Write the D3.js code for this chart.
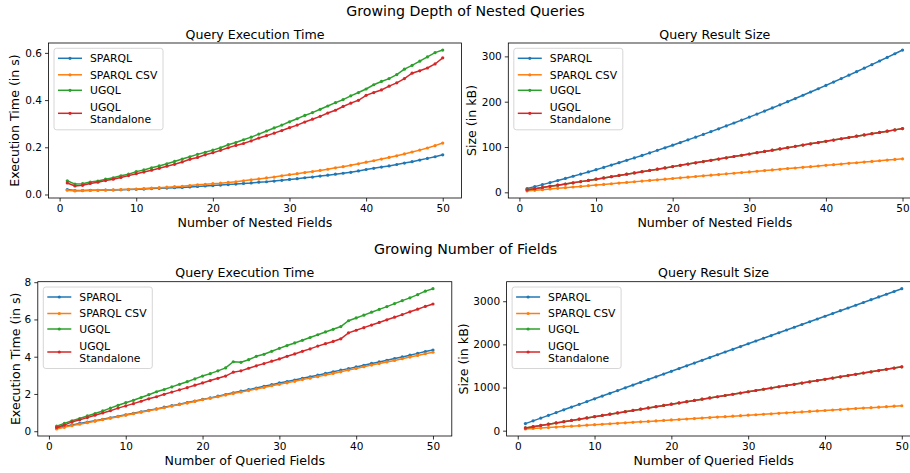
<!DOCTYPE html>
<html>
<head>
<meta charset="utf-8">
<style>
  body { margin: 0; background: #fff; }
  svg { display: block; font-family: "DejaVu Sans", sans-serif; }
</style>
</head>
<body>
<svg width="910" height="473"></svg>
<script src="https://d3js.org/d3.v7.min.js"></script>
<script>
// x values: number of nested / queried fields
var fieldCounts = d3.range(1, 51);
var seriesNames = ["SPARQL", "SPARQL CSV", "UGQL", "UGQL\nStandalone"];
var colors = ["#1f77b4", "#ff7f0e", "#2ca02c", "#d62728"];

// growing depth of nested queries - execution time (s)
var depthTimeSparql = [
  0.021,0.017,0.017,0.018,0.018,0.019,0.019,0.020,0.021,0.022,
  0.023,0.025,0.026,0.027,0.029,0.030,0.032,0.034,0.036,0.038,
  0.040,0.042,0.044,0.047,0.049,0.052,0.054,0.057,0.060,0.064,
  0.067,0.071,0.074,0.078,0.082,0.086,0.090,0.094,0.100,0.106,
  0.111,0.116,0.121,0.127,0.133,0.139,0.146,0.153,0.160,0.168];
var depthTimeCsv = [
  0.018,0.015,0.016,0.017,0.018,0.019,0.020,0.021,0.022,0.023,
  0.025,0.027,0.029,0.031,0.033,0.035,0.038,0.041,0.043,0.046,
  0.048,0.051,0.054,0.058,0.062,0.066,0.070,0.074,0.079,0.084,
  0.088,0.093,0.097,0.102,0.107,0.113,0.118,0.124,0.130,0.137,
  0.143,0.150,0.157,0.164,0.172,0.180,0.188,0.197,0.207,0.218];
var depthTimeUgql = [
  0.058,0.044,0.046,0.053,0.057,0.065,0.071,0.079,0.086,0.097,
  0.104,0.113,0.121,0.130,0.140,0.150,0.160,0.170,0.179,0.188,
  0.198,0.211,0.220,0.232,0.243,0.256,0.269,0.282,0.294,0.308,
  0.321,0.335,0.347,0.361,0.375,0.389,0.402,0.418,0.432,0.447,
  0.465,0.479,0.491,0.508,0.531,0.547,0.565,0.583,0.601,0.612];
var depthTimeStandalone = [
  0.049,0.036,0.039,0.047,0.052,0.059,0.065,0.072,0.080,0.088,
  0.095,0.103,0.111,0.120,0.128,0.138,0.149,0.157,0.168,0.177,
  0.187,0.198,0.208,0.216,0.227,0.239,0.249,0.260,0.271,0.283,
  0.294,0.307,0.319,0.331,0.345,0.357,0.373,0.387,0.399,0.420,
  0.432,0.443,0.459,0.473,0.491,0.514,0.524,0.536,0.553,0.579];

// growing depth of nested queries - result size (kB)
var depthSizeSparql = [
  8.2,12.6,17.0,21.4,26.0,30.6,35.4,40.2,45.0,50.0,
  55.0,60.2,65.4,70.6,76.0,81.4,87.0,92.6,98.2,104.0,
  109.8,115.8,121.8,127.8,134.0,140.2,146.6,153.0,159.4,166.0,
  172.6,179.4,186.2,193.0,200.0,207.0,214.2,221.4,228.6,236.0,
  243.4,251.0,258.6,266.2,274.0,281.8,289.8,297.8,305.8,314.0];
var depthSizeCsv = [
  3.0,4.4,5.9,7.3,8.8,10.2,11.7,13.1,14.6,16.0,
  17.5,18.9,20.4,21.8,23.3,24.7,26.2,27.6,29.1,30.5,
  32.0,33.4,34.9,36.3,37.8,39.2,40.7,42.1,43.6,45.0,
  46.5,47.9,49.4,50.8,52.3,53.7,55.2,56.6,58.1,59.5,
  61.0,62.4,63.9,65.3,66.8,68.2,69.7,71.1,72.6,74.0];
// UGQL and UGQL Standalone give the same result size
var depthSizeUgql = [
  5.5,8.0,10.6,13.2,15.8,18.4,21.0,23.6,26.2,28.9,
  31.7,34.5,37.3,40.0,42.8,45.6,48.3,51.1,53.9,56.7,
  59.5,62.3,65.0,67.8,70.6,73.4,76.2,79.0,81.8,84.6,
  87.4,90.2,93.0,95.8,98.6,101.4,104.2,107.0,109.8,112.6,
  115.4,118.2,121.0,123.8,126.6,129.4,132.2,135.0,137.8,140.6];

// growing number of fields - execution time (s)
var fieldsTimeSparql = [
  0.17,0.25,0.34,0.42,0.49,0.56,0.64,0.72,0.80,0.88,
  0.96,1.04,1.12,1.20,1.29,1.37,1.45,1.54,1.62,1.71,
  1.79,1.88,1.97,2.06,2.15,2.23,2.32,2.41,2.50,2.59,
  2.67,2.75,2.84,2.92,3.01,3.10,3.19,3.28,3.36,3.45,
  3.54,3.64,3.72,3.81,3.90,3.99,4.08,4.18,4.28,4.36];
var fieldsTimeCsv = [
  0.12,0.21,0.30,0.38,0.46,0.54,0.62,0.70,0.78,0.86,
  0.94,1.02,1.10,1.18,1.26,1.35,1.43,1.51,1.60,1.69,
  1.77,1.85,1.94,2.02,2.10,2.18,2.27,2.35,2.44,2.52,
  2.60,2.68,2.77,2.85,2.93,3.02,3.10,3.19,3.28,3.37,
  3.46,3.55,3.63,3.72,3.80,3.89,3.98,4.07,4.16,4.24];
var fieldsTimeUgql = [
  0.27,0.42,0.56,0.68,0.82,0.95,1.09,1.24,1.39,1.53,
  1.66,1.81,1.96,2.12,2.24,2.38,2.52,2.66,2.81,2.96,
  3.09,3.24,3.40,3.73,3.70,3.84,4.02,4.13,4.29,4.45,
  4.60,4.74,4.88,5.03,5.18,5.33,5.47,5.62,5.93,6.08,
  6.23,6.39,6.54,6.69,6.85,7.01,7.16,7.33,7.52,7.65];
var fieldsTimeStandalone = [
  0.20,0.33,0.50,0.61,0.73,0.86,0.98,1.10,1.24,1.36,
  1.48,1.61,1.74,1.85,1.98,2.10,2.22,2.34,2.47,2.59,
  2.72,2.84,2.96,3.17,3.24,3.38,3.51,3.63,3.76,3.88,
  4.02,4.15,4.29,4.42,4.57,4.70,4.82,4.96,5.28,5.42,
  5.56,5.70,5.84,5.98,6.12,6.26,6.41,6.55,6.70,6.83];

// growing number of fields - result size (kB)
var fieldsSizeSparql = [
  164,228,291,355,419,483,547,610,674,738,
  802,866,929,993,1057,1121,1185,1248,1312,1376,
  1440,1504,1567,1631,1695,1759,1823,1886,1950,2014,
  2078,2142,2205,2269,2333,2397,2461,2524,2588,2652,
  2716,2780,2843,2907,2971,3035,3099,3162,3226,3290];
var fieldsSizeCsv = [
  39,50,61,72,83,94,105,116,127,138,
  149,160,171,182,193,204,215,226,237,248,
  259,270,281,292,303,314,325,336,347,358,
  369,380,391,402,413,424,435,446,457,468,
  479,490,501,512,523,534,545,556,567,578];
var fieldsSizeUgql = [
  64,93,122,151,180,208,237,266,295,324,
  353,382,411,440,469,497,526,555,584,613,
  642,671,700,729,758,786,815,844,873,902,
  931,960,989,1018,1047,1075,1104,1133,1162,1191,
  1220,1249,1278,1307,1336,1364,1393,1422,1451,1480];

var xTicks = [0, 10, 20, 30, 40, 50];

var svg = d3.select("svg");

var panels = [
  { left: 48.5, top: 43, width: 413, height: 155, labelX: -33.5,
    data: [depthTimeSparql, depthTimeCsv, depthTimeUgql, depthTimeStandalone],
    yTicks: [0, 0.2, 0.4, 0.6], yFmt: d3.format(".1f"),
    title: "Query Execution Time", xLabel: "Number of Nested Fields", yLabel: "Execution Time (in s)" },
  { left: 508.3, top: 43, width: 413, height: 155, labelX: -36.5,
    data: [depthSizeSparql, depthSizeCsv, depthSizeUgql, depthSizeUgql],
    yTicks: [0, 100, 200, 300], yFmt: d3.format("d"),
    title: "Query Result Size", xLabel: "Number of Nested Fields", yLabel: "Size (in kB)" },
  { left: 37.8, top: 281.7, width: 414, height: 154.3, labelX: -22.5,
    data: [fieldsTimeSparql, fieldsTimeCsv, fieldsTimeUgql, fieldsTimeStandalone],
    yTicks: [0, 2, 4, 6, 8], yFmt: d3.format("d"),
    title: "Query Execution Time", xLabel: "Number of Queried Fields", yLabel: "Execution Time (in s)" },
  { left: 506.6, top: 281.7, width: 414, height: 154.3, labelX: -43.5,
    data: [fieldsSizeSparql, fieldsSizeCsv, fieldsSizeUgql, fieldsSizeUgql],
    yTicks: [0, 1000, 2000, 3000], yFmt: d3.format("d"),
    title: "Query Result Size", xLabel: "Number of Queried Fields", yLabel: "Size (in kB)" }
];

svg.append("text").attr("x", 465.5).attr("y", 15.5)
  .attr("text-anchor", "middle").style("font-size", "14.2px")
  .text("Growing Depth of Nested Queries");
svg.append("text").attr("x", 465.5).attr("y", 253.5)
  .attr("text-anchor", "middle").style("font-size", "14.2px")
  .text("Growing Number of Fields");

panels.forEach(drawPanel);

function drawPanel(p) {
  var g = svg.append("g").attr("transform", "translate(" + p.left + "," + p.top + ")");

  var x = d3.scaleLinear().domain([1 - 49 * 0.05, 50 + 49 * 0.05]).range([0, p.width]);
  var all = [].concat.apply([], p.data);
  var lo = d3.min(all), hi = d3.max(all), pad = (hi - lo) * 0.05;
  var y = d3.scaleLinear().domain([lo - pad, hi + pad]).range([p.height, 0]);

  var xAxis = g.append("g").attr("transform", "translate(0," + p.height + ")")
    .call(d3.axisBottom(x).tickValues(xTicks).tickSize(3.5).tickPadding(3));
  var yAxis = g.append("g")
    .call(d3.axisLeft(y).tickValues(p.yTicks).tickFormat(p.yFmt).tickSize(3.5).tickPadding(3));
  [xAxis, yAxis].forEach(function(a) {
    a.select(".domain").remove();
    a.selectAll("line").attr("stroke", "#000").attr("stroke-width", 0.8);
    a.selectAll("text").attr("fill", "#000").style("font-size", "10.5px")
      .style("font-family", "DejaVu Sans, sans-serif");
  });

  var line = d3.line()
    .x(function(d, i) { return x(fieldCounts[i]); })
    .y(function(d) { return y(d); });

  p.data.forEach(function(vals, k) {
    g.append("path").attr("d", line(vals))
      .attr("fill", "none").attr("stroke", colors[k]).attr("stroke-width", 1.5);
    g.append("g").selectAll("circle").data(vals).enter().append("circle")
      .attr("cx", function(d, i) { return x(fieldCounts[i]); })
      .attr("cy", function(d) { return y(d); })
      .attr("r", 1.6).attr("fill", colors[k]);
  });

  g.append("rect").attr("width", p.width).attr("height", p.height)
    .attr("fill", "none").attr("stroke", "#000").attr("stroke-width", 0.8);

  g.append("text").attr("x", p.width / 2).attr("y", -4.5)
    .attr("text-anchor", "middle").style("font-size", "12.6px").text(p.title);
  g.append("text").attr("x", p.width / 2).attr("y", p.height + 29)
    .attr("text-anchor", "middle").style("font-size", "12.6px").text(p.xLabel);
  g.append("text")
    .attr("transform", "translate(" + p.labelX + "," + (p.height / 2) + ") rotate(-90)")
    .attr("dy", "0.35em").attr("text-anchor", "middle")
    .style("font-size", "12.6px").text(p.yLabel);

  // legend
  var lg = g.append("g").attr("transform", "translate(5.5,5.3)");
  lg.append("rect").attr("width", 109).attr("height", 81.5).attr("rx", 2.5)
    .attr("fill", "#fff").attr("fill-opacity", 0.8)
    .attr("stroke", "#cccccc").attr("stroke-width", 0.8);
  var rows = [10, 26.5, 42, 65];
  seriesNames.forEach(function(name, k) {
    var ry = rows[k];
    lg.append("line").attr("x1", 4).attr("x2", 28).attr("y1", ry).attr("y2", ry)
      .attr("stroke", colors[k]).attr("stroke-width", 1.5);
    lg.append("circle").attr("cx", 16).attr("cy", ry).attr("r", 1.6).attr("fill", colors[k]);
    var parts = name.split("\n");
    var t = lg.append("text").attr("x", 36).style("font-size", "10.8px");
    parts.forEach(function(s, j) {
      t.append("tspan").attr("x", 36)
        .attr("y", ry + (j - (parts.length - 1) / 2) * 12.5)
        .attr("dy", "0.36em").text(s);
    });
  });
}
</script>
</body>
</html>
